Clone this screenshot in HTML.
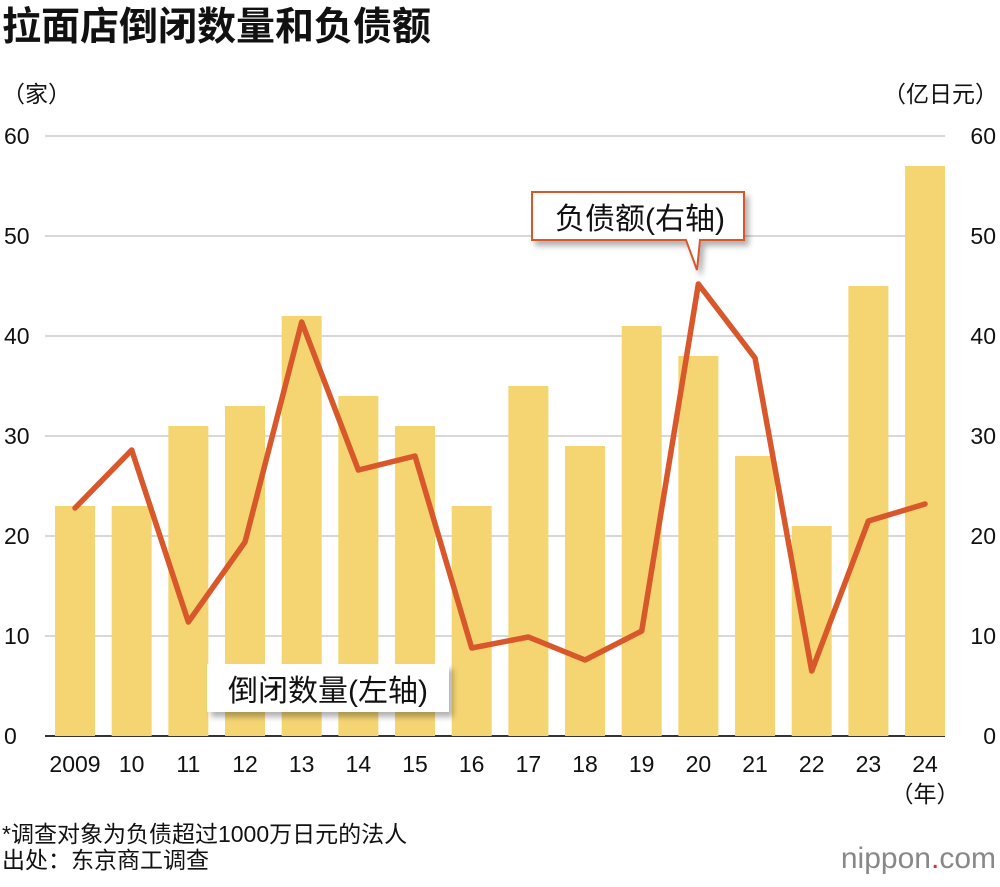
<!DOCTYPE html>
<html><head><meta charset="utf-8">
<style>
body{margin:0;background:#fff;font-family:"Liberation Sans","Noto Sans CJK SC",sans-serif;}
svg text{font-family:"Liberation Sans","Noto Sans CJK SC",sans-serif;}
</style></head>
<body>
<svg id="chart" width="1000" height="882" viewBox="0 0 1000 882">
<defs><filter id="sh" x="-20%" y="-20%" width="150%" height="160%"><feDropShadow dx="4" dy="5" stdDeviation="3" flood-color="#000" flood-opacity="0.3"/></filter></defs>
<text x="2" y="40" font-size="39" font-weight="bold" fill="#111">拉面店倒闭数量和负债额</text>
<text x="2" y="102" font-size="23" fill="#111">（家）</text>
<text x="998" y="102" font-size="23" fill="#111" text-anchor="end">（亿日元）</text>
<g id="grid"></g><g id="bars"></g><g id="line"></g><g id="labels"></g>
<g filter="url(#sh)">
<path d="M532,192 H744 V240 H700 L697,270 L686,240 H532 Z" fill="#fff" stroke="#d9582b" stroke-width="2"/>
</g>
<text x="640" y="229" font-size="30" text-anchor="middle" fill="#111">负债额(右轴)</text>
<g filter="url(#sh)">
<rect x="207" y="664" width="242" height="48" fill="#fff"/>
</g>
<text x="328" y="701" font-size="30" text-anchor="middle" fill="#111">倒闭数量(左轴)</text>
<text x="925" y="802" font-size="23" text-anchor="middle" fill="#111">（年）</text>
<text x="2" y="842" font-size="23" fill="#111">*调查对象为负债超过1000万日元的法人</text>
<text x="2" y="868" font-size="23" fill="#111">出处：东京商工调查</text>
<text x="996" y="868" font-size="30" text-anchor="end" fill="#888">nippon<tspan fill="#d9302b">.</tspan>com</text>
</svg>
<script>
const years=["2009","10","11","12","13","14","15","16","17","18","19","20","21","22","23","24"];
const closures=[23,23,31,33,42,34,31,23,35,29,41,38,28,21,45,57];
const debt=[22.8,28.6,11.4,19.4,41.4,26.6,28,8.8,9.9,7.6,10.5,45.2,37.8,6.5,21.5,23.2];
const ticks=[0,10,20,30,40,50,60];
const NS="http://www.w3.org/2000/svg";
const y=v=>736-v*10;
const x=i=>75+i*56.67;
function mk(t,a,p){const e=document.createElementNS(NS,t);for(const k in a)e.setAttribute(k,a[k]);p.appendChild(e);return e;}
const g=document.getElementById('grid'),b=document.getElementById('bars'),l=document.getElementById('line'),lb=document.getElementById('labels');
ticks.forEach(t=>{
 const ln=mk('line',{x1:45,x2:945,y1:y(t),y2:y(t),stroke:t===0?'#333':'#ccc','stroke-width':t===0?2:1.5},g);
 
 
 const a=mk('text',{x:4,y:y(t)+8,'font-size':23,fill:'#111'},lb);a.textContent=t;
 
 
 const c=mk('text',{x:996,y:y(t)+8,'font-size':23,fill:'#111','text-anchor':'end'},lb);c.textContent=t;
 
 
});
closures.forEach((v,i)=>{
 const r=mk('rect',{x:x(i)-20,y:y(v),width:40,height:v*10,fill:'#f5d572'},b);
 
 
 const t=mk('text',{x:x(i),y:772,'font-size':23,fill:'#111','text-anchor':'middle'},lb);t.textContent=years[i];
 
 
});
const pl=mk('polyline',{points:debt.map((v,i)=>x(i)+','+y(v)).join(' '),fill:'none',stroke:'#d9582b','stroke-width':5.5,'stroke-linejoin':'round','stroke-linecap':'round'},l);


</script>
</body></html>
